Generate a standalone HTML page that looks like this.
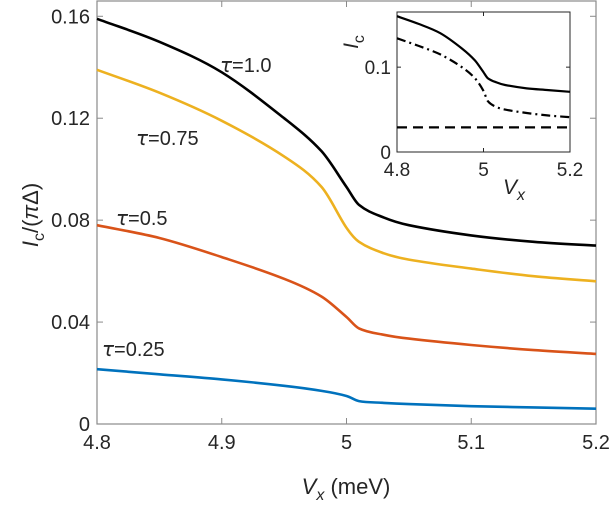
<!DOCTYPE html>
<html><head><meta charset="utf-8"><style>
body{margin:0;background:#fff}
svg text{font-family:"Liberation Sans",Arial,sans-serif;fill:#262626}
</style></head><body>
<svg width="613" height="502" viewBox="0 0 613 502">
<g id="main"></g>
<g id="inset"></g>
</svg>
<script>
const xs = [4.8,4.85,4.9,4.95,4.98,5.0,5.01,5.03,5.05,5.1,5.15,5.2];
const tau10 = [0.159,0.150,0.138,0.120,0.107,0.093,0.086,0.081,0.078,0.074,0.0715,0.070];
const tau075 = [0.139,0.130,0.119,0.105,0.093,0.077,0.0715,0.067,0.0645,0.061,0.058,0.056];
const tau05 = [0.078,0.073,0.0655,0.057,0.050,0.042,0.0375,0.035,0.0335,0.031,0.029,0.0275];
const tau025 = [0.0215,0.0195,0.0175,0.015,0.013,0.011,0.009,0.0083,0.0078,0.007,0.0065,0.006];
const insetSolid = [0.160,0.151,0.140,0.122,0.108,0.094,0.087,0.082,0.079,0.075,0.073,0.071];
const insetDashDot = [0.134,0.125,0.115,0.100,0.087,0.072,0.060,0.053,0.050,0.046,0.043,0.041];
const insetDashed = [0.029,0.029,0.029,0.029,0.029,0.029,0.029,0.029,0.029,0.029,0.029,0.029];
const mainYTicks = [0,0.04,0.08,0.12,0.16];
const mainYLabels = ["0","0.04","0.08","0.12","0.16"];
const mainXTicks = [4.8,4.9,5.0,5.1,5.2];
const mainXLabels = ["4.8","4.9","5","5.1","5.2"];
const insetYTicks = [0,0.1];
const insetYLabels = ["0","0.1"];
const insetXTicks = [4.8,5.0,5.2];
const insetXLabels = ["4.8","5","5.2"];

const NS="http://www.w3.org/2000/svg";
function mk(parent,tag,attrs,txt){const e=document.createElementNS(NS,tag);for(const k in attrs)e.setAttribute(k,attrs[k]);if(txt!==undefined)e.textContent=txt;parent.appendChild(e);return e;}
function axes(L,R,T,B,xmin,xmax,ymin,ymax){return{x:v=>L+(v-xmin)/(xmax-xmin)*(R-L),y:v=>B-(v-ymin)/(ymax-ymin)*(B-T),L,R,T,B};}
function path(a,ys){
 const p=xs.map((x,i)=>[a.x(x),a.y(ys[i])]);
 let d='M'+p[0][0].toFixed(1)+','+p[0][1].toFixed(1);
 for(let i=0;i<p.length-1;i++){
  const p0=p[Math.max(0,i-1)],p1=p[i],p2=p[i+1],p3=p[Math.min(p.length-1,i+2)];
  const h=p2[0]-p1[0];
  const s1=(p2[1]-p0[1])/((p2[0]-p0[0])||1), s2=(p3[1]-p1[1])/((p3[0]-p1[0])||1);
  const c1=[p1[0]+h/3,p1[1]+s1*h/3];
  const c2=[p2[0]-h/3,p2[1]-s2*h/3];
  d+=' C'+c1.map(v=>v.toFixed(1)).join(',')+' '+c2.map(v=>v.toFixed(1)).join(',')+' '+p2.map(v=>v.toFixed(1)).join(',');
 }
 return d;}

// main
const m=document.getElementById('main');
const A=axes(97,596,1,424,4.8,5.2,0,0.166);
mk(m,'rect',{x:A.L,y:A.T,width:A.R-A.L,height:A.B-A.T,fill:'#fff',stroke:'#8a8a8a','stroke-width':1.2});
mainYTicks.forEach((t,i)=>{const y=A.y(t);
 mk(m,'line',{x1:A.L,x2:A.L+6,y1:y,y2:y,stroke:'#8a8a8a'});
 mk(m,'line',{x1:A.R,x2:A.R-6,y1:y,y2:y,stroke:'#8a8a8a'});
 let tx=mk(m,'text',{x:A.L-7,y:y+7,'text-anchor':'end','font-size':20},mainYLabels[i]);
 
 });
mainXTicks.forEach((t,i)=>{const x=A.x(t);
 mk(m,'line',{x1:x,x2:x,y1:A.B,y2:A.B-6,stroke:'#8a8a8a'});
 mk(m,'line',{x1:x,x2:x,y1:A.T,y2:A.T+6,stroke:'#8a8a8a'});
 let tx=mk(m,'text',{x:x,y:A.B+25,'text-anchor':'middle','font-size':20},mainXLabels[i]);
 
 });
const series=[[tau10,'#000000','tau-1-0'],[tau075,'#EDB120','tau-0-75'],[tau05,'#D95319','tau-0-5'],[tau025,'#0072BD','tau-0-25']];
series.forEach(s=>{let p=mk(m,'path',{d:path(A,s[0]),fill:'none',stroke:s[1],'stroke-width':2.6});
 
 });
const labs=[[220,72,'1.0'],[136,145,'0.75'],[116,225,'0.5'],[102,356,'0.25']];
labs.forEach(l=>{let t=mk(m,'text',{x:l[0],y:l[1],'font-size':20,fill:'#000'});
 t.innerHTML='<tspan font-style="italic" font-family="DejaVu Sans">τ</tspan>=' + l[2];
 
 });
let yl=mk(m,'text',{transform:'translate(38,215) rotate(-90)','text-anchor':'middle','font-size':22});
yl.innerHTML='<tspan font-style="italic">I</tspan><tspan font-size="16" dy="6">c</tspan><tspan dy="-6">/(</tspan><tspan font-style="italic">π</tspan><tspan>Δ)</tspan>';

let xl=mk(m,'text',{x:346,y:494,'text-anchor':'middle','font-size':22});
xl.innerHTML='<tspan font-style="italic">V</tspan><tspan font-size="16" dy="6" font-style="italic">x</tspan><tspan dy="-6"> (meV)</tspan>';


// inset
const n=document.getElementById('inset');
const B=axes(397,570,12,152,4.8,5.2,0,0.165);
mk(n,'rect',{x:B.L,y:B.T,width:B.R-B.L,height:B.B-B.T,fill:'#fff',stroke:'#262626','stroke-width':1});
insetYTicks.forEach((t,i)=>{const y=B.y(t);
 mk(n,'line',{x1:B.L,x2:B.L+4,y1:y,y2:y,stroke:'#262626'});
 mk(n,'line',{x1:B.R,x2:B.R-4,y1:y,y2:y,stroke:'#262626'});
 let tx=mk(n,'text',{x:B.L-6,y:y+7,'text-anchor':'end','font-size':19},insetYLabels[i]);
 
 });
insetXTicks.forEach((t,i)=>{const x=B.x(t);
 mk(n,'line',{x1:x,x2:x,y1:B.B,y2:B.B-4,stroke:'#262626'});
 mk(n,'line',{x1:x,x2:x,y1:B.T,y2:B.T+4,stroke:'#262626'});
 let tx=mk(n,'text',{x:x,y:B.B+24,'text-anchor':'middle','font-size':19},insetXLabels[i]);
 
 });
const iser=[[insetSolid,'none','inset-solid'],[insetDashDot,'9,4,2,4','inset-dash-dot'],[insetDashed,'10,6','inset-dashed']];
iser.forEach(s=>{let p=mk(n,'path',{d:path(B,s[0]),fill:'none',stroke:'#000','stroke-width':2.2,'stroke-dasharray':s[1]});
 
 });
let il=mk(n,'text',{transform:'translate(358,42) rotate(-90)','text-anchor':'middle','font-size':21});
il.innerHTML='<tspan font-style="italic">I</tspan><tspan font-size="16" dy="6">c</tspan>';

let ixl=mk(n,'text',{x:514,y:194,'text-anchor':'middle','font-size':21});
ixl.innerHTML='<tspan font-style="italic">V</tspan><tspan font-size="16" dy="6" font-style="italic">x</tspan>';

</script>
</body></html>
